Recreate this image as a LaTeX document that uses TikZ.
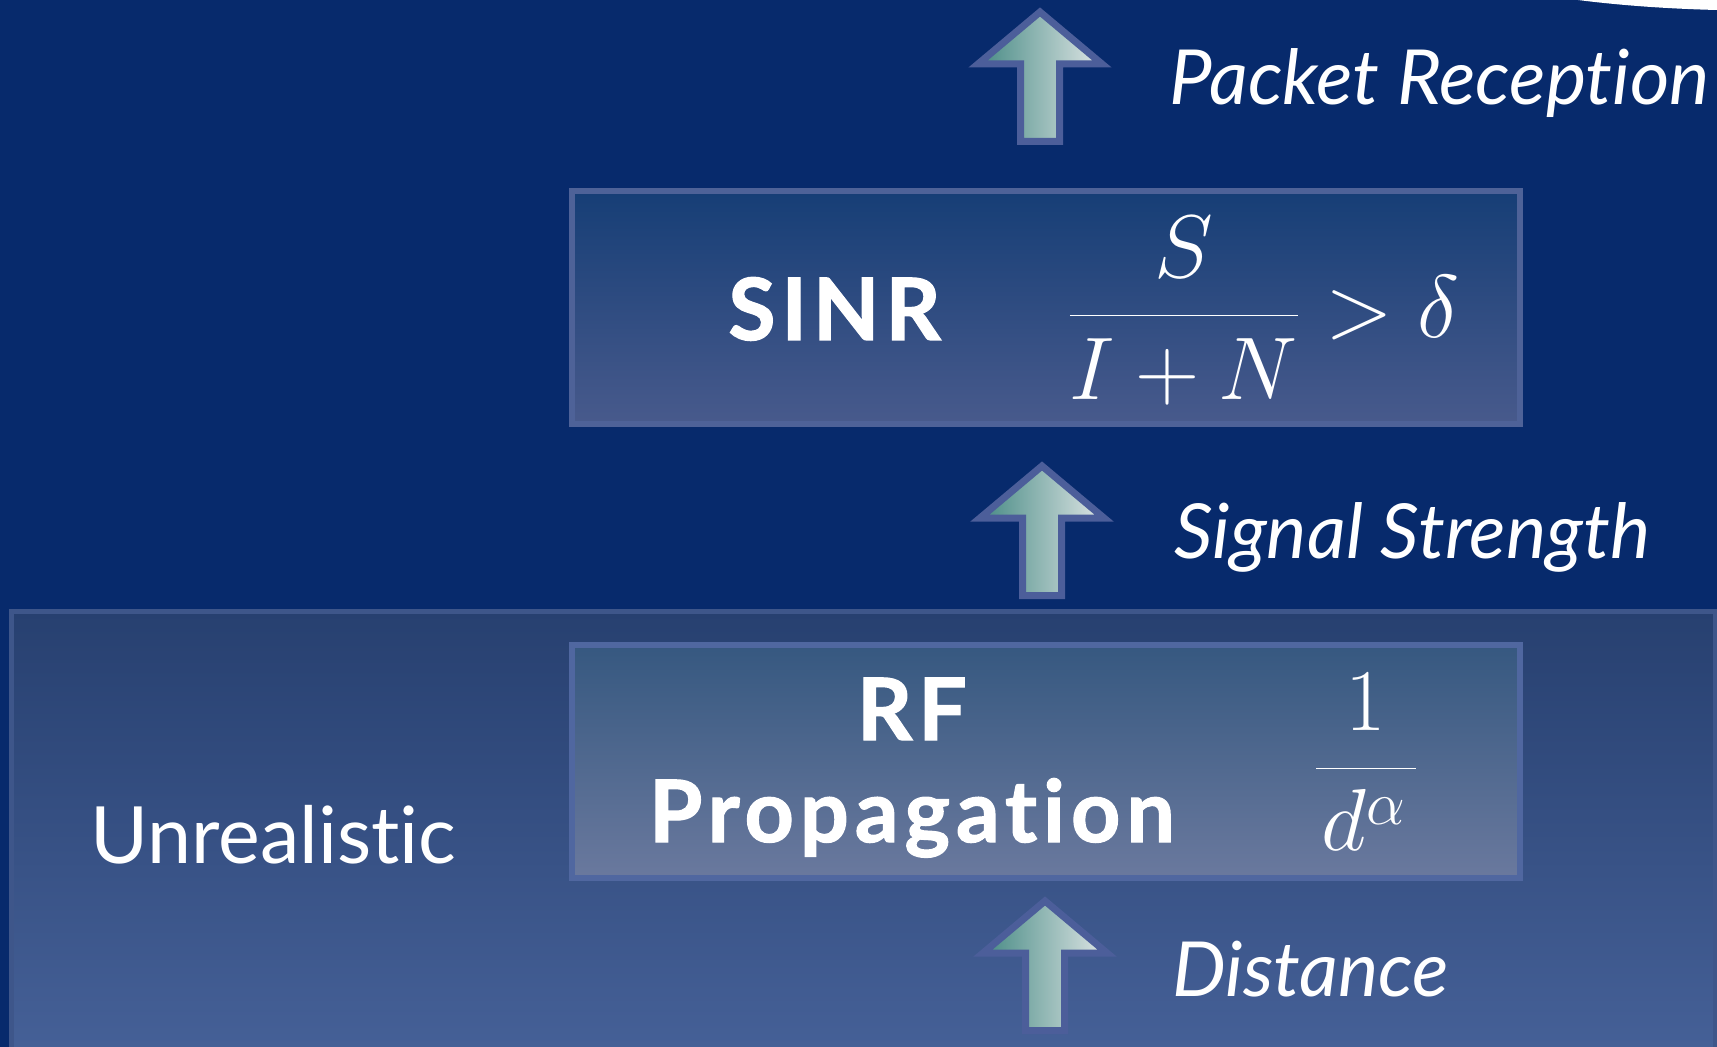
\RequirePackage{fix-cm}
\documentclass[tikz,border=0pt]{standalone}
\usepackage{fontspec}
\setmainfont{Lato}[Ligatures={NoCommon,NoRare,NoContextual}]
\newfontfamily\heavyfont{Lato}[Ligatures={NoCommon,NoRare,NoContextual},
  BoldFeatures={FakeBold=1.4,LetterSpace=7}]
\usetikzlibrary{positioning}

\definecolor{slidebg}{RGB}{7,42,108}
\definecolor{paneltop}{RGB}{39,64,112}
\definecolor{panelbottom}{RGB}{70,97,152}
\definecolor{panelline}{RGB}{62,86,138}
\definecolor{sinrtop}{RGB}{22,62,118}
\definecolor{sinrbottom}{RGB}{72,90,140}
\definecolor{sinrline}{RGB}{78,98,152}
\definecolor{rftop}{RGB}{54,88,128}
\definecolor{rfbottom}{RGB}{106,121,158}
\definecolor{rfline}{RGB}{80,103,160}
\definecolor{arrowleft}{RGB}{70,138,132}
\definecolor{arrowright}{RGB}{224,230,230}
\definecolor{arrowline}{RGB}{76,94,154}

\newcommand\flowfont{\fontsize{38}{46}\selectfont\itshape}
\newcommand\namefont{\fontsize{43}{51}\selectfont\heavyfont\bfseries}

% block arrow pointing up, tip at (#1,#2)
\newcommand\upblock[2]{%
  \draw[blockarrow] (#1,#2) -- ++(62,52) -- ++(-42.5,0) -- ++(0,77.5)
    -- ++(-39,0) -- ++(0,-77.5) -- ++(-42.5,0) -- cycle;}

\begin{document}
\begin{tikzpicture}[x=0.5pt,y=-0.5pt,
    txt/.style={text=white,inner sep=0pt},
    sinrbox/.style={draw=sinrline,line width=3pt,top color=sinrtop,bottom color=sinrbottom,
      minimum width=474pt,minimum height=116.5pt,inner sep=0pt},
    rfbox/.style={draw=rfline,line width=3pt,top color=rftop,bottom color=rfbottom,
      minimum width=474pt,minimum height=116.5pt,inner sep=0pt},
    blockarrow/.style={draw=arrowline,line width=3.5pt,line join=miter,
      left color=arrowleft,right color=arrowright}]
  \useasboundingbox (0,0) rectangle (1717,1047);
  \clip (0,0) rectangle (1717,1047);
  \fill[slidebg] (0,0) rectangle (1717,1047);
  \fill[white] (1578,0) .. controls (1625,6) and (1675,9) .. (1717,10) -- (1717,0) -- cycle;

  % lower layer
  \draw[draw=panelline,line width=2.5pt,top color=paneltop,bottom color=panelbottom]
    (11.5,611.5) rectangle (1715,1062);

  \node[sinrbox] (sinr) at (1046,307.5) {};
  \node[rfbox] (rf) at (1046,761.5) {};

  \upblock{1040}{12}
  \upblock{1042}{466}
  \upblock{1045}{901}

  \node[txt,anchor=base west,font=\flowfont] (recv) at (1169,105) {Packet Reception};
  \node[txt,anchor=base west,font=\flowfont] (strength) at (1174,558) {Signal Strength};
  \node[txt,anchor=base west,font=\flowfont] (dist) at (1172,996) {Distance};

  \node[txt,anchor=base,font=\namefont] (sinrname) at (834.5,340) {SINR};
  \node[txt,anchor=base west,font=\fontsize{44.5}{50}\selectfont] (sinrrule) at (1067,338)
    {$\displaystyle\frac{S}{I+N}>\delta$};

  \node[txt,anchor=base,align=center,font=\namefont] (rfname) at (912,842)
    {RF\\Propagation};
  \node[txt,anchor=base,font=\fontsize{44}{50}\selectfont] (pathloss) at (1366,790)
    {$\displaystyle\frac{1}{\mkern1mu d^{\alpha}\mkern2mu}$};

  \node[txt,anchor=base west,font=\fontsize{39.5}{48}\selectfont] (unreal) at (90,863) {Unrealistic};
\end{tikzpicture}
\end{document}
